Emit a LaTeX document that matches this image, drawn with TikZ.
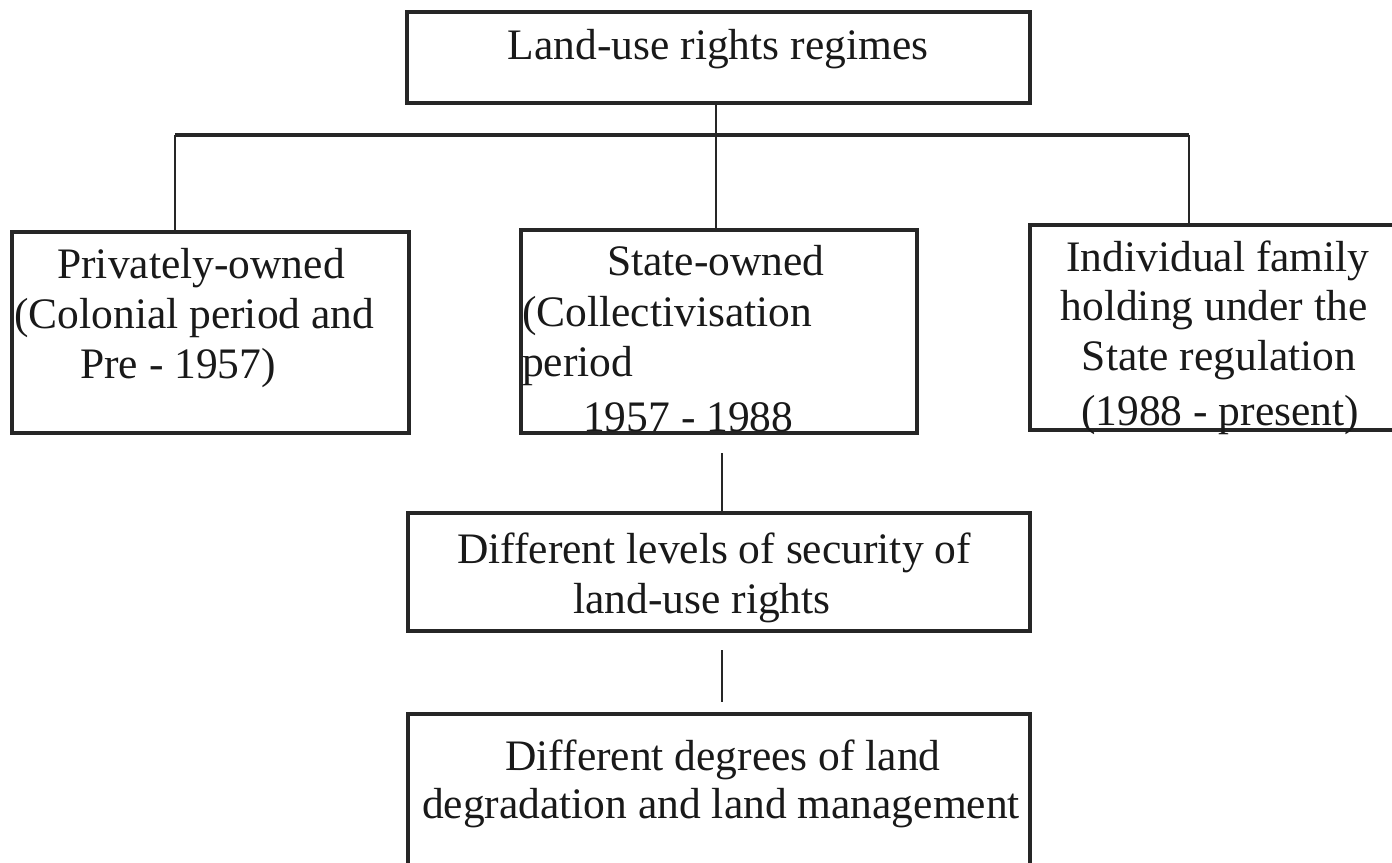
\documentclass[tikz,border=0pt]{standalone}
\usepackage{fontspec}
\setmainfont{Liberation Serif}
\begin{document}
\begin{tikzpicture}[x=1pt,y=-1pt,
  box/.style={draw=black!85, line width=3.2pt, inner sep=0pt, minimum width=#1},
  conn/.style={draw=black!85, line width=2pt},
  bar/.style={draw=black!85, line width=3.6pt},
  txt/.style={inner sep=0pt, anchor=base, text=black!90, font=\fontsize{43.5}{50}\selectfont},
  txtl/.style={txt, anchor=base west}]
\useasboundingbox (0,0) rectangle (1392,862);
% boxes
\node[box=623pt, minimum height=91pt] (top) at (718.5,57.5) {};
\node[box=397pt, minimum height=201pt] (left) at (210.5,332.5) {};
\node[box=396pt, minimum height=203pt] (mid) at (719,331.5) {};
\node[box=366pt, minimum height=205pt] (right) at (1213,327.5) {};
\node[box=622pt, minimum height=118pt] (sec) at (719,572) {};
\node[box=622pt, minimum height=154pt] (deg) at (719,791) {};
% texts
\node[txt] (t0) at (718,59) {Land-use rights regimes};
\node[txt] (l1) at (201,278) {Privately-owned};
\node[txtl] (l2) at (14,328) {(Colonial period and};
\node[txtl] (l3) at (80,378) {Pre - 1957)};
\node[txt] (m1) at (716,275) {State-owned};
\node[txtl] (m2) at (522,326) {(Collectivisation};
\node[txtl] (m3) at (522,376) {period};
\node[txtl] (m4) at (583,431) {1957 - 1988};
\node[txt] (r1) at (1218,271) {Individual family};
\node[txt] (r2) at (1214,320) {holding under the};
\node[txt] (r3) at (1219,370) {State regulation};
\node[txt] (r4) at (1220,425) {(1988 - present)};
\node[txt] (s1) at (714,563) {Different levels of security of};
\node[txt] (s2) at (702,613) {land-use rights};
\node[txt] (d1) at (723,770) {Different degrees of land};
\node[txt] (d2) at (721,818) {degradation and land management};
% connectors
\coordinate (hl) at (175,135);
\coordinate (hr) at (1189,135);
\draw[bar] (hl) -- (hr);
\draw[conn] (hl) -- (hl |- left.north);
\draw[conn] (hr) -- (hr |- right.north);
\coordinate (vt) at (716,0);
\draw[conn] (vt |- top.south) -- (vt |- mid.north);
\coordinate (g1) at (722,453);
\draw[conn] (g1) -- (g1 |- sec.north);
\coordinate (g2a) at (722,650);
\coordinate (g2b) at (722,702);
\draw[conn] (g2a) -- (g2b);
\end{tikzpicture}
\end{document}
